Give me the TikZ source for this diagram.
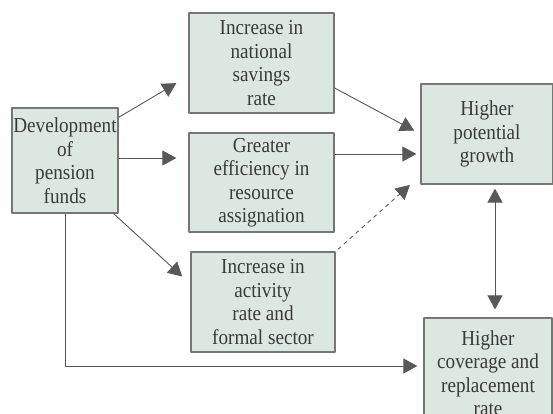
\documentclass[tikz,border=0pt]{standalone}
\usepackage{fontspec}
\setmainfont{Liberation Serif}[FakeStretch=0.9]
\usetikzlibrary{arrows.meta}
\definecolor{boxfill}{RGB}{220,231,226}
\definecolor{boxline}{RGB}{118,118,118}
\definecolor{arrgray}{RGB}{88,88,88}
\definecolor{txtgray}{RGB}{58,58,58}
\begin{document}
\begin{tikzpicture}[x=1pt,y=-1pt,line join=round,
		>={Triangle[length=14pt,width=15pt]},
		box/.style={draw=boxline,line width=1.2pt,fill=boxfill,text=txtgray,align=center,inner sep=0pt,
			font=\fontsize{21.3}{23.5}\selectfont},
		link/.style={->,draw=arrgray,line width=0.9pt}]
		\useasboundingbox (0,0) rectangle (553,413);
		\clip (0,0) rectangle (553,413);
		% boxes
		\node[box,minimum width=106pt,minimum height=105pt] (dev) at (65,160.5) {Development\\of\\pension\\funds};
		\node[box,minimum width=145pt,minimum height=100pt] (sav) at (261.5,63) {Increase in\\national\\savings\\rate};
		\node[box,minimum width=145pt,minimum height=99pt] (eff) at (261.5,182.5) {Greater\\efficiency in\\resource\\assignation};
		\node[box,minimum width=144pt,minimum height=100pt] (act) at (263,302) {Increase in\\activity\\rate and\\formal sector};
		\node[box,minimum width=132pt,minimum height=100pt] (grw) at (487,134) {Higher\\potential\\growth};
		\node[box,minimum width=128pt,minimum height=110pt] (cov) at (488,373) {Higher\\coverage and\\replacement\\rate};
		% arrows
		\draw[link,shorten >=14pt] ([yshift=-10pt]dev.north east) -- ([yshift=-13pt]sav.west);
		\draw[link,shorten >=12pt] ([yshift=2.5pt]dev.east) -- ([yshift=2.5pt]dev.east -| eff.west);
		\draw[link,shorten >=11pt] ([xshift=-5pt]dev.south east) -- ([yshift=18pt]act.west);
		\draw[link,shorten >=7pt] ([yshift=-25pt]sav.east) -- (grw.west);
		\draw[link,shorten >=4pt] ([yshift=28.5pt]eff.east) -- ([yshift=28.5pt]eff.east -| grw.west);
		\draw[link,dash pattern=on 4pt off 4pt,shorten <=3pt,shorten >=14pt] (act.north east) -- ([yshift=9pt]grw.south west);
		\draw[link,<->,shorten <=4pt,shorten >=8pt] ([xshift=8pt]grw.south) -- ([xshift=8pt]grw.south |- cov.north);
		\draw[link,shorten >=6pt] (dev.south) |- ([yshift=7pt]cov.west);
\end{tikzpicture}
\end{document}
